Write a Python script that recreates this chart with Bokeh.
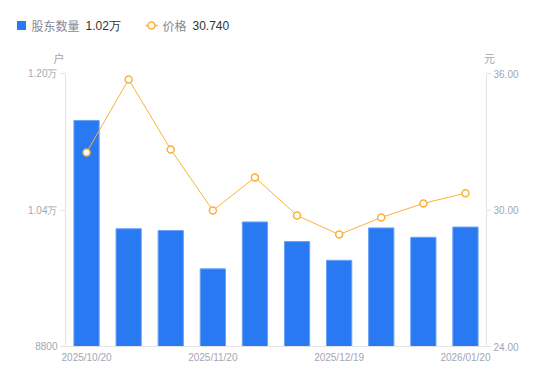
from bokeh.plotting import figure
from bokeh.models import Range1d, LinearAxis, FixedTicker
from bokeh.core.properties import value
from bokeh.embed import file_html
from bokeh.resources import INLINE

dates = ["2025/10/20", "2025/10/31", "2025/11/10", "2025/11/20", "2025/11/28",
         "2025/12/10", "2025/12/19", "2025/12/31", "2026/01/09", "2026/01/20"]
holders = [11450, 10180, 10160, 9710, 10260, 10030, 9810, 10190, 10080, 10200]
prices = [32.53, 35.74, 32.66, 29.98, 31.43, 29.76, 28.92, 29.67, 30.29, 30.74]
shown_dates = [0, 3, 6, 9]
left_ticks = [8800, 10400, 12000]
left_tick_labels = ["8800", "1.04万", "1.20万"]
right_ticks = [24, 30, 36]
right_tick_labels = ["24.00", "30.00", "36.00"]
series_names = ["股东数量", "价格"]
legend_values = ["1.02万", "30.740"]
units = ["户", "元"]

CJK = "Noto Sans CJK SC"
LATIN = "Liberation Sans"
GREY = "#a3a6b4"
LEG_GREY = "#858896"
DARK = "#333333"
AXIS_LINE = "#e3e4e8"
BLUE = "#2979f2"
ORANGE = "#f9b13a"

W, H = 550, 381
HEAD_H = 65

# ---------- header (legend + unit labels) ----------
h = figure(width=W, height=HEAD_H, output_backend="svg", toolbar_location=None,
           x_range=Range1d(0, W), y_range=Range1d(HEAD_H, 0),
           x_axis_location=None, y_axis_location=None,
           min_border=0, min_border_left=0, min_border_right=0,
           min_border_top=0, min_border_bottom=0)
h.outline_line_color = None
h.grid.visible = False

ly = 25
h.rect(x=[21], y=[ly], width=9, height=9, fill_color=BLUE, line_color=None)
h.text(x=[31], y=[ly], text=[series_names[0]], text_font=value(CJK), text_font_size="12px",
       text_color=LEG_GREY, text_baseline="middle", text_align="left")
h.text(x=[85], y=[ly], text=[legend_values[0]], text_font=value(LATIN), text_font_size="12px",
       text_color=DARK, text_baseline="middle", text_align="left")
h.segment(x0=[145], y0=[ly], x1=[157], y1=[ly], line_color=ORANGE, line_width=1.5)
h.scatter(x=[151], y=[ly], size=7, marker="circle", fill_color="white",
          line_color=ORANGE, line_width=1.5)
h.text(x=[162], y=[ly], text=[series_names[1]], text_font=value(CJK), text_font_size="12px",
       text_color=LEG_GREY, text_baseline="middle", text_align="left")
h.text(x=[192], y=[ly], text=[legend_values[1]], text_font=value(LATIN), text_font_size="12px",
       text_color=DARK, text_baseline="middle", text_align="left")
h.text(x=[58.5, 489], y=[57, 57], text=units, text_font=value(CJK), text_font_size="11px",
       text_color=GREY, text_baseline="middle", text_align="center")

# ---------- main chart ----------
xs = list(range(len(dates)))

p = figure(width=W, height=H - HEAD_H, output_backend="svg", toolbar_location=None,
           x_range=Range1d(-0.5, len(dates) - 0.5),
           y_range=Range1d(left_ticks[0], left_ticks[-1]),
           min_border_left=65, min_border_right=64, min_border_top=8, min_border_bottom=35)
p.extra_y_ranges = {"price": Range1d(right_ticks[0], right_ticks[-1])}
p.outline_line_color = None
p.grid.visible = False

p.vbar(x=xs, top=holders, bottom=left_ticks[0], width=0.6,
       fill_color=BLUE, line_color="#6aa2f7", line_width=1)
p.line(x=xs, y=prices, y_range_name="price", line_color=ORANGE, line_width=1)
p.scatter(x=xs, y=prices, y_range_name="price", size=7, marker="circle",
          fill_color="white", line_color=ORANGE, line_width=1.5)

def style_axis(ax):
    ax.axis_line_color = AXIS_LINE
    ax.major_tick_line_color = AXIS_LINE
    ax.minor_tick_line_color = None
    ax.major_label_text_color = GREY
    ax.major_label_text_font = LATIN
    ax.major_label_text_font_size = "10px"

# x axis
xa = p.xaxis[0]
xa.ticker = FixedTicker(ticks=shown_dates)
xa.major_label_overrides = {i: dates[i] for i in shown_dates}
style_axis(xa)
xa.major_tick_line_color = None
xa.major_tick_in = 0
xa.major_tick_out = 0
xa.major_label_standoff = 5

# left axis
ya = p.yaxis[0]
ya.ticker = FixedTicker(ticks=left_ticks)
ya.major_label_overrides = {t: l for t, l in zip(left_ticks, left_tick_labels)}
style_axis(ya)
ya.major_tick_in = 0
ya.major_tick_out = 5
ya.major_label_standoff = 3

# right axis
ra = LinearAxis(y_range_name="price", ticker=FixedTicker(ticks=right_ticks))
ra.major_label_overrides = {t: l for t, l in zip(right_ticks, right_tick_labels)}
style_axis(ra)
ra.major_tick_in = 0
ra.major_tick_out = 5
ra.major_label_standoff = 2
p.add_layout(ra, "right")

open("out.html", "w").write(file_html([h, p], INLINE))
